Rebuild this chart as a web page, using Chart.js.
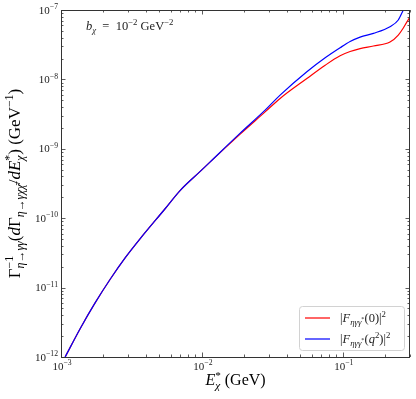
<!DOCTYPE html>
<html>
<head>
<meta charset="utf-8">
<script src="https://cdn.jsdelivr.net/npm/chart.js@4.4.1/dist/chart.umd.min.js"></script>
<style>
  html, body { margin: 0; padding: 0; background: #fff; }
  canvas { display: block; }
</style>
</head>
<body>
<canvas id="chart" width="416" height="399"></canvas>
<script>
// energia del chi (GeV) y espectro normalizado, leidos a ojo de la figura
const energy = [0.00107, 0.00137, 0.00175, 0.00224, 0.00286, 0.00365, 0.0055, 0.0070, 0.00973, 0.01146,
                0.0187, 0.0281, 0.0359, 0.0556, 0.075, 0.0957, 0.1127, 0.1327, 0.165, 0.2163,
                0.2477, 0.269, 0.2768, 0.3];
const rateF0 = [1.0e-12, 2.58e-12, 6.07e-12, 1.33e-11, 2.7e-11, 5.08e-11, 1.38e-10, 2.5e-10, 4.72e-10, 6.49e-10,
                1.63e-9, 3.4e-9, 5.32e-9, 1.03e-8, 1.6e-8, 2.19e-8, 2.52e-8, 2.78e-8, 3.03e-8, 3.45e-8,
                4.35e-8, 5.5e-8, 6.08e-8, 7.92e-8];
const rateFq2 = [1.0e-12, 2.58e-12, 6.07e-12, 1.33e-11, 2.7e-11, 5.08e-11, 1.38e-10, 2.5e-10, 4.72e-10, 6.49e-10,
                 1.68e-9, 3.6e-9, 5.93e-9, 1.29e-8, 2.05e-8, 2.86e-8, 3.51e-8, 4.07e-8, 4.61e-8, 5.74e-8,
                 7.18e-8, 1.0e-7, 1.12e-7, 1.5e-7];

const xMajor = [1e-3, 1e-2, 1e-1];
const yMajor = [1e-12, 1e-11, 1e-10, 1e-9, 1e-8, 1e-7];
const xRange = [1e-3, 0.3];
const yRange = [1e-12, 1e-7];

// etiquetas con sub/superindices: [texto, cursiva, nivel]
// nivel: 0 normal, 1 sup, -1 sub, 2 sup dentro de sub; 'st' = apilar sobre el anterior
const legendLabels = [
  [['|', 0, 0], ['F', 1, 0], ['ηγγ', 1, -1], ['*', 0, 2], ['(0)|', 0, 0], ['2', 0, 1]],
  [['|', 0, 0], ['F', 1, 0], ['ηγγ', 1, -1], ['*', 0, 2], ['(', 0, 0], ['q', 1, 0], ['2', 0, 1], [')|', 0, 0], ['2', 0, 1]]
];
const xTitle = [['E', 1, 0], ['*', 0, 1], ['χ', 1, -1, 'st'], [' (GeV)', 0, 0]];
const yTitle = [['Γ', 0, 0], ['−1', 0, 1], ['η→γγ', 1, -1, 'st'], ['(', 0, 0], ['d', 1, 0], ['Γ', 0, 0], ['η→γχχ̄', 1, -1],
                ['/', 0, 0], ['d', 1, 0], ['E', 1, 0], ['*', 0, 1], ['χ', 1, -1, 'st'], [') (GeV', 0, 0], ['−1', 0, 1], [')', 0, 0]];
const note = [['b', 1, 0], ['χ', 1, -1], ['  =  10', 0, 0], ['−2', 0, 1], [' GeV', 0, 0], ['−2', 0, 1]];

const FONT = '"Liberation Serif", "DejaVu Serif", serif';

function partStyle(lvl, size) {
  if (lvl === 1) return { s: size * 0.7, dy: -size * 0.4 };
  if (lvl === -1) return { s: size * 0.7, dy: size * 0.22 };
  if (lvl === 2) return { s: size * 0.5, dy: -size * 0.05 };
  return { s: size, dy: 0 };
}

function layoutMath(ctx, parts, size) {
  let x = 0, prevStart = 0, prevEnd = 0;
  const out = [];
  parts.forEach(p => {
    const st = partStyle(p[2], size);
    ctx.font = (p[1] ? 'italic ' : '') + st.s + 'px ' + FONT;
    const w = ctx.measureText(p[0]).width;
    let start = x;
    if (p[3] === 'st') start = prevStart;
    out.push({ t: p[0], font: ctx.font, x: start, dy: st.dy });
    const end = start + w;
    x = p[3] === 'st' ? Math.max(prevEnd, end) : end;
    prevStart = start; prevEnd = x;
  });
  return { items: out, width: x };
}

function drawMath(ctx, parts, x, y, size, align, color) {
  const lay = layoutMath(ctx, parts, size);
  let x0 = x;
  if (align === 'center') x0 = x - lay.width / 2;
  if (align === 'right') x0 = x - lay.width;
  ctx.fillStyle = color || '#000';
  ctx.textBaseline = 'alphabetic';
  ctx.textAlign = 'left';
  lay.items.forEach(it => {
    ctx.font = it.font;
    ctx.fillText(it.t, x0 + it.x, y + it.dy);
  });
}

function minorTicks(majors, lo, hi) {
  const res = [];
  majors.forEach(m => {
    for (let k = 2; k <= 9; k++) {
      const v = m * k;
      if (v > lo && v < hi * 1.0001) res.push(v);
    }
  });
  return res;
}

const axesPlugin = {
  id: 'mplAxes',
  afterDraw(chart) {
    const ctx = chart.ctx;
    const a = chart.chartArea;
    const xs = chart.scales.x, ys = chart.scales.y;
    ctx.save();

    // marco
    ctx.strokeStyle = '#333';
    ctx.lineWidth = 1;
    ctx.strokeRect(a.left + 0.5, a.top + 0.5, a.right - a.left - 1, a.bottom - a.top);

    // marcas hacia dentro en los cuatro lados
    ctx.lineWidth = 0.8;
    ctx.beginPath();
    const xMinor = minorTicks(xMajor, xRange[0], xRange[1]);
    const yMinor = minorTicks(yMajor, yRange[0], yRange[1]);
    [[xMajor, 4.5], [xMinor, 2.5]].forEach(([vals, len]) => {
      vals.forEach(v => {
        const px = Math.round(xs.getPixelForValue(v)) + 0.5;
        ctx.moveTo(px, a.bottom); ctx.lineTo(px, a.bottom - len);
        ctx.moveTo(px, a.top); ctx.lineTo(px, a.top + len);
      });
    });
    [[yMajor, 4.5], [yMinor, 2.5]].forEach(([vals, len]) => {
      vals.forEach(v => {
        const py = Math.round(ys.getPixelForValue(v)) + 0.5;
        ctx.moveTo(a.left, py); ctx.lineTo(a.left + len, py);
        ctx.moveTo(a.right, py); ctx.lineTo(a.right - len, py);
      });
    });
    ctx.stroke();

    // etiquetas de los ejes
    xMajor.forEach(v => {
      const exp = Math.round(Math.log10(v));
      drawMath(ctx, [['10', 0, 0], ['−' + Math.abs(exp), 0, 1]], xs.getPixelForValue(v) + 1, a.bottom + 12.5, 11, 'center', '#222');
    });
    yMajor.forEach(v => {
      const exp = Math.round(Math.log10(v));
      drawMath(ctx, [['10', 0, 0], ['−' + Math.abs(exp), 0, 1]], a.left - 3, ys.getPixelForValue(v) + 3.5, 11, 'right', '#222');
    });

    drawMath(ctx, xTitle, (a.left + a.right) / 2, 385, 16, 'center');
    ctx.save();
    ctx.translate(20, (a.top + a.bottom) / 2);
    ctx.rotate(-Math.PI / 2);
    drawMath(ctx, yTitle, 0, 0, 17, 'center');
    ctx.restore();

    drawMath(ctx, note, 86, 30, 12.5, 'left', '#222');

    // leyenda
    const lx = 299, ly = 306, lw = 105, lh = 44;
    ctx.beginPath();
    ctx.roundRect(lx + 0.5, ly + 0.5, lw, lh, 3);
    ctx.fillStyle = 'rgba(255,255,255,0.85)';
    ctx.fill();
    ctx.strokeStyle = '#d2d2d2';
    ctx.lineWidth = 1;
    ctx.stroke();
    chart.data.datasets.forEach((ds, i) => {
      const yy = ly + 12 + i * 21;
      ctx.beginPath();
      ctx.strokeStyle = ds.borderColor;
      ctx.lineWidth = 1.2;
      ctx.moveTo(lx + 6, yy); ctx.lineTo(lx + 31, yy);
      ctx.stroke();
      drawMath(ctx, legendLabels[i], lx + 41, yy + 4, 12.5, 'left', '#222');
    });
    ctx.restore();
  }
};

const ctx = document.getElementById('chart').getContext('2d');
new Chart(ctx, {
  type: 'scatter',
  data: {
    datasets: [{
      label: '|F(0)|^2',
      data: energy.map((x, i) => ({ x: x, y: rateF0[i] })),
      borderColor: '#ff0000',
      order: 1
    }, {
      label: '|F(q^2)|^2',
      data: energy.map((x, i) => ({ x: x, y: rateFq2[i] })),
      borderColor: '#0000ff',
      order: 0
    }]
  },
  options: {
    responsive: false,
    animation: false,
    showLine: true,
    layout: { padding: { left: 61, top: 10, right: 6, bottom: 42 } },
    elements: {
      point: { radius: 0 },
      line: { borderWidth: 1.2, cubicInterpolationMode: 'monotone', fill: false }
    },
    plugins: { legend: { display: false }, tooltip: { enabled: false } },
    scales: {
      x: { type: 'logarithmic', min: xRange[0], max: xRange[1], display: false },
      y: { type: 'logarithmic', min: yRange[0], max: yRange[1], display: false }
    }
  },
  plugins: [axesPlugin]
});
</script>
</body>
</html>
